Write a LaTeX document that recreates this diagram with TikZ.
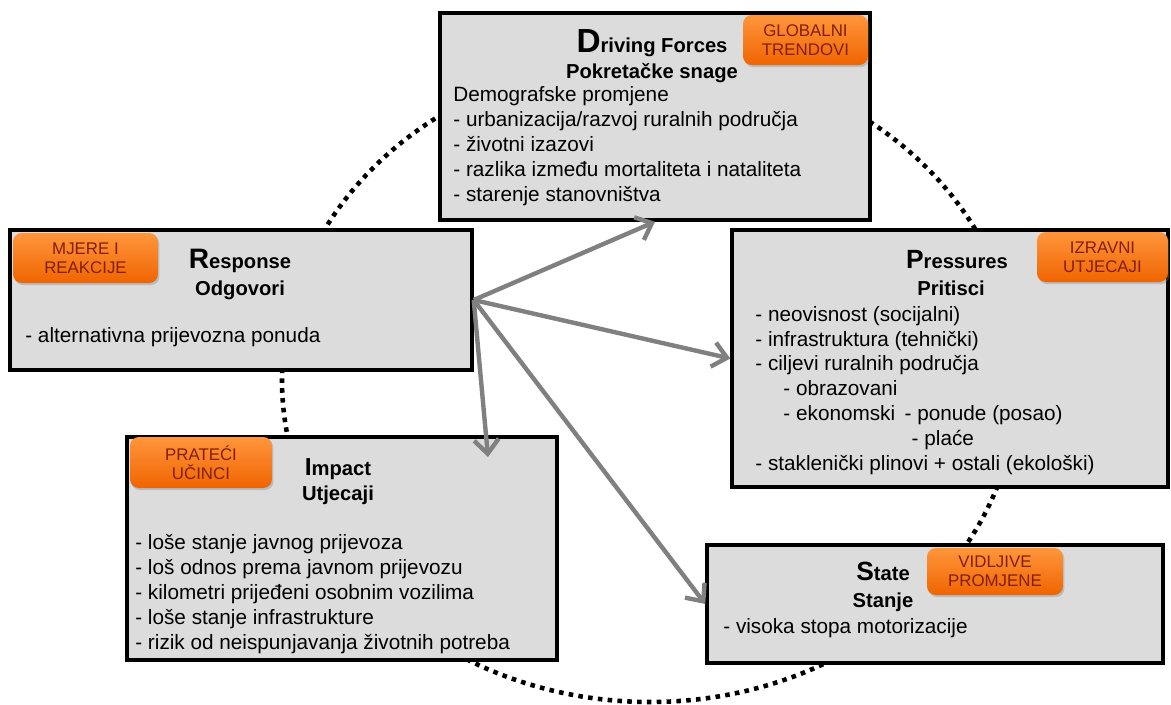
\documentclass[tikz,border=0pt]{standalone}
\usepackage{fontspec}
\setmainfont{Liberation Sans}
\usetikzlibrary{arrows.meta,shadows}

\definecolor{boxgray}{RGB}{220,220,220}
\definecolor{tagtop}{RGB}{255,150,60}
\definecolor{tagbottom}{RGB}{240,100,0}
\definecolor{tagtext}{RGB}{130,30,10}
\definecolor{arrowgray}{RGB}{128,128,128}

% grosses Anfangszeichen im Titel
\newcommand{\bigfirst}[3]{{\fontsize{#1}{#1}\selectfont #2}#3}

\begin{document}
\begin{tikzpicture}[x=0.02cm, y=-0.02cm,
  box/.style={draw=black, line width=2pt, fill=boxgray, inner sep=0pt},
  tag/.style={rounded corners=5pt, top color=tagtop, bottom color=tagbottom,
    drop shadow={shadow xshift=0.8pt, shadow yshift=-1.2pt, opacity=0.35},
    text=tagtext, align=center, inner sep=0pt,
    font=\fontsize{9.6}{10.8}\selectfont},
  title/.style={anchor=base, inner sep=0pt, font=\fontsize{11.5}{14}\selectfont\bfseries},
  body/.style={anchor=base west, inner sep=0pt, align=left,
    font=\fontsize{11.8}{14.1}\selectfont},
  link/.style={draw=arrowgray, line width=2.5pt, -{Straight Barb[length=8pt,width=14pt]}},
  ring/.style={line width=2.6pt, dash pattern=on 2.6pt off 3pt}]

  \path[use as bounding box, fill=white] (0,0) rectangle (1171,704);

  % Kreis im Hintergrund
  \draw[ring] (650,380) ellipse [x radius=368, y radius=322];

  % Kaesten
  \node[box, minimum width=8.6cm, minimum height=4.14cm] (driving) at (655,116.5) {};
  \node[box, minimum width=9.24cm, minimum height=2.8cm] (response) at (241,300) {};
  \node[box, minimum width=8.72cm, minimum height=5.14cm] (pressures) at (950,358.5) {};
  \node[box, minimum width=8.6cm, minimum height=4.46cm] (impact) at (342,548.5) {};
  \node[box, minimum width=9.12cm, minimum height=2.36cm] (state) at (935,604) {};

  % Driving Forces (mehrzeilig: Lage = letzte Zeile)
  \node[title] (drivingname) at (652,52) {\bigfirst{19}{D}{riving Forces}};
  \node[title] (drivingsub) at (652,78) {Pokretačke snage};
  \node[body] (drivingtext) at (453,201) {Demografske promjene\\
    - urbanizacija/razvoj ruralnih područja\\- životni izazovi\\
    - razlika između mortaliteta i nataliteta\\- starenje stanovništva};

  % Response
  \node[title] (responsename) at (240,268) {\bigfirst{16}{R}{esponse}};
  \node[title] (responsesub) at (240,295) {Odgovori};
  \node[body] (responsetext) at (25,342) {- alternativna prijevozna ponuda};

  % Pressures
  \node[title] (pressuresname) at (957,268) {\bigfirst{15}{P}{ressures}};
  \node[title] (pressuressub) at (951,295) {Pritisci};
  \node[body] (pressurestext) at (755,470) {- neovisnost (socijalni)\\
    - infrastruktura (tehnički)\\- ciljevi ruralnih područja\\
    \hspace*{16pt}- obrazovani\\
    \hspace*{16pt}\makebox[69pt][l]{- ekonomski}- ponude (posao)\\
    \hspace*{89pt}- plaće\\
    - staklenički plinovi + ostali (ekološki)};

  % Impact
  \node[title] (impactname) at (338,475) {\bigfirst{14}{I}{mpact}};
  \node[title] (impactsub) at (338,500) {Utjecaji};
  \node[body] (impacttext) at (135,649) {- loše stanje javnog prijevoza\\
    - loš odnos prema javnom prijevozu\\- kilometri prijeđeni osobnim vozilima\\
    - loše stanje infrastrukture\\- rizik od neispunjavanja životnih potreba};

  % State
  \node[title] (statename) at (883,580) {\bigfirst{15}{S}{tate}};
  \node[title] (statesub) at (883,607) {Stanje};
  \node[body] (statetext) at (723,633) {- visoka stopa motorizacije};

  % Oznake
  \node[tag, minimum width=2.5cm, minimum height=1cm] (globalni) at (805.5,40) {GLOBALNI\\TRENDOVI};
  \node[tag, minimum width=2.9cm, minimum height=1cm] (mjere) at (85.5,258) {MJERE I\\REAKCIJE};
  \node[tag, minimum width=2.62cm, minimum height=1cm] (izravni) at (1102.5,257) {IZRAVNI\\UTJECAJI};
  \node[tag, minimum width=2.84cm, minimum height=1.02cm] (prateci) at (201,462.5) {PRATEĆI\\UČINCI};
  \node[tag, minimum width=2.72cm, minimum height=0.94cm] (vidljive) at (995,571.5) {VIDLJIVE\\PROMJENE};

  % Strelice
  \coordinate (impacttip) at (488,457);
  \draw[link] (response.east) -- (driving.south);
  \draw[link] (response.east) -- (pressures.west);
  \draw[link] (response.east) -- (impacttip);
  \draw[link] (response.east) -- (state.west);
\end{tikzpicture}
\end{document}
